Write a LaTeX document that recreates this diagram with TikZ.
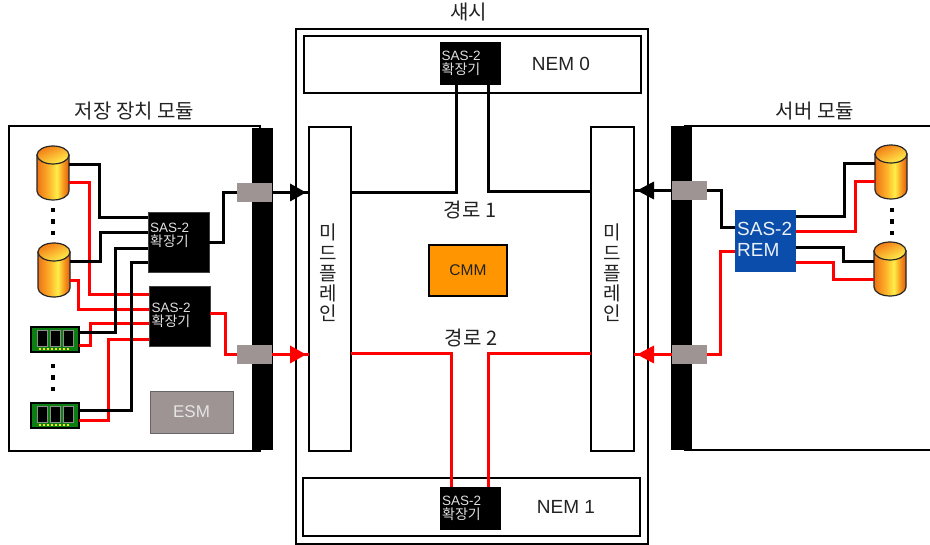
\documentclass[tikz,border=0pt]{standalone}
\usepackage{fontspec}
\setmainfont{Liberation Sans}
\newfontfamily\kr{Noto Sans CJK KR}
\usetikzlibrary{arrows.meta}
\definecolor{txtc}{HTML}{222222}
\definecolor{portg}{HTML}{9E9494}
\definecolor{redw}{HTML}{FF0000}
\definecolor{remb}{HTML}{0B4DAB}
\definecolor{cmmo}{HTML}{FF9500}
\definecolor{ramg}{HTML}{0B7F12}
\pgfdeclarehorizontalshading{cylbody}{100bp}{
  rgb(0bp)=(0.93,0.45,0.08);
  rgb(25bp)=(0.93,0.45,0.08);
  rgb(42bp)=(0.99,0.68,0.16);
  rgb(56bp)=(1,0.93,0.28);
  rgb(66bp)=(0.97,0.60,0.12);
  rgb(75bp)=(0.88,0.36,0.05);
  rgb(100bp)=(0.88,0.36,0.05)}
\pgfdeclareverticalshading{cyltop}{100bp}{
  rgb(0bp)=(1,0.90,0.28);
  rgb(30bp)=(1,0.90,0.28);
  rgb(70bp)=(0.96,0.52,0.10);
  rgb(100bp)=(0.96,0.52,0.10)}
\tikzset{
  x=1pt,y=-1pt,
  lbl/.style={font=\kr\fontsize{20}{20}\selectfont,text=txtc,inner sep=0pt},
  frame/.style={draw=black,line width=1.4pt,fill=white,inner sep=0pt,outer sep=0pt},
  blk/.style={draw=black,line width=3pt,line join=miter},
  rdw/.style={draw=redw,line width=3pt,line join=miter},
  expd/.style={fill=black,draw=black!75!white,line width=0.6pt,inner sep=0pt,outer sep=0pt},
  nemexp/.style={fill=black,inner sep=0pt,outer sep=0pt},
  exptxt/.style={anchor=west,inner sep=0pt,text=white!88!black,align=left,font=\fontsize{13.5}{15}\selectfont},
  port/.style={fill=portg,inner sep=0pt,outer sep=0pt,minimum width=35pt,minimum height=19pt},
  bar/.style={fill=black,inner sep=0pt,outer sep=0pt,minimum width=21pt},
  dotm/.style={fill=black,inner sep=0pt,minimum size=4.5pt},
  ghost/.style={inner sep=0pt,outer sep=0pt}
}
\newcommand{\kt}[1]{{\kr\fontsize{14}{15}\selectfont #1}}
\newcommand{\cyl}[3]{%
  \node[ghost,minimum width=32pt,minimum height=54pt] (#1) at (#2,#3) {};
  \path[shading=cylbody,draw=black!85!white,line width=1.2pt]
    (#2-16,#3-18) -- (#2-16,#3+18) arc[start angle=180,end angle=360,x radius=16pt,y radius=9pt] -- (#2+16,#3-18) -- cycle;
  \path[shading=cyltop,shading angle=25,draw=black!85!white,line width=1.2pt]
    (#2,#3-18) circle[x radius=16pt,y radius=9pt];
}
\newcommand{\ram}[3]{%
  \node[draw=black,fill=ramg,line width=1.2pt,inner sep=0pt,outer sep=0pt,minimum width=48pt,minimum height=25pt] (#1) at (#2,#3) {};
  \foreach \dx in {-13,0.5,13.5}{
    \fill[black,draw=black!45!white,line width=.7pt] (#2+\dx-5,#3-9.5) rectangle (#2+\dx+5,#3+7);
  }
  \foreach \dx in {-15,-11,...,15}{
    \fill[yellow!90!orange] (#2+\dx-1.2,#3+8.5) rectangle (#2+\dx+1.2,#3+11);
  }
}
\newcommand{\vdotsm}[4]{%
  \node[dotm] (#1a) at (#2,#3) {};
  \node[dotm] (#1b) at (#2,#3+#4) {};
  \node[dotm] (#1c) at (#2,#3+2*#4) {};
}
\begin{document}
\begin{tikzpicture}
\useasboundingbox (0,0) rectangle (930,545);
\fill[white] (0,0) rectangle (930,545);
% titles
\node[lbl] (tstor) at (134.5,111) {저장 장치 모듈};
\node[lbl] (tchas) at (468.5,12) {섀시};
\node[lbl] (tserv) at (815,111) {서버 모듈};
% storage module
\node[frame,minimum width=251pt,minimum height=325pt] (stor) at (134.5,288.5) {};
\node[bar,minimum height=322pt] (sbar) at (262.5,289) {};
% server module
\draw[black,line width=1.4pt] (684,126) -- (931,126);
\draw[black,line width=1.4pt] (684,450) -- (931,450);
\node[bar,minimum height=324pt] (rbar) at (681.5,288) {};
% chassis
\node[frame,line width=1.2pt,minimum width=352pt,minimum height=515pt] (chas) at (472,286.5) {};
\node[frame,minimum width=337pt,minimum height=57pt] (nem0) at (472.5,64.5) {};
\node[frame,minimum width=337pt,minimum height=58pt] (nem1) at (471.5,507) {};
\node[frame,minimum width=42pt,minimum height=324pt] (midl) at (330,289) {};
\node[frame,minimum width=43pt,minimum height=324pt] (midr) at (612.5,289) {};
\node[nemexp,minimum width=61pt,minimum height=43pt] (ex0) at (470.5,63.5) {};
\node[nemexp,minimum width=61pt,minimum height=43pt] (ex3) at (470.5,508.5) {};
\node[expd,minimum width=61pt,minimum height=60pt] (ex1) at (178.5,242) {};
\node[expd,minimum width=61pt,minimum height=60pt] (ex2) at (179.5,316) {};
% ports
\node[port] (pa) at (254.5,192.5) {};
\node[port] (pb) at (254.5,354.5) {};
\node[port] (pc) at (689.5,190.5) {};
\node[port] (pd) at (689.5,354.5) {};
% devices
\cyl{c1}{53}{173}
\cyl{c2}{54}{270}
\cyl{c3}{891}{172}
\cyl{c4}{890}{269}
\ram{r1}{55}{339.5}
\ram{r2}{55}{415.5}
\vdotsm{da}{53}{210}{11.5}
\vdotsm{db}{53}{366}{11.5}
\vdotsm{dc}{892}{210}{11.5}
% storage wires
\draw[rdw] (c1.east |- 0,183) -- (89,183) |- (ex2.west |- 0,295);
\draw[rdw] (c2.east |- 0,281) -- (78,281) |- (ex2.west |- 0,310);
\draw[rdw] (r1.east |- 0,346) -- (90,346) |- (ex2.west |- 0,324);
\draw[rdw] (r2.east |- 0,421) -- (108,421) |- (ex2.west |- 0,340);
\draw[blk] (c1.east |- 0,165) -- (99,165) |- (ex1.west |- 0,218);
\draw[blk] (c2.east |- 0,262) -- (100,262) |- (ex1.west |- 0,233);
\draw[blk] (r1.east |- 0,333) -- (115,333) |- (ex1.west |- 0,249);
\draw[blk] (r2.east |- 0,411) -- (131,411) |- (ex1.west |- 0,263);
\draw[blk] (ex1.east |- 0,243) -- (223,243) |- (pa.west);
\draw[rdw] (ex2.east |- 0,314) -- (225,314) |- (pb.west);
% arrows to midplanes
\draw[blk] (pa.east) -- (midl.west |- pa.east);
\fill[black] (290,183.5) -- (306,192.5) -- (290,201.5) -- cycle;
\draw[rdw] (pb.east) -- (midl.west |- pb.east);
\fill[redw] (290,345.5) -- (306,354.5) -- (290,363.5) -- cycle;
\draw[blk] (pc.west) -- (midr.east |- pc.west);
\fill[black] (654,181.5) -- (637,190.5) -- (654,199.5) -- cycle;
\draw[rdw] (pd.west) -- (midr.east |- pd.west);
\fill[redw] (654,345.5) -- (637,354.5) -- (654,363.5) -- cycle;
% chassis wires
\draw[blk] (midl.east |- 0,193) -| (ex0.south -| 456,0);
\draw[blk] (midr.west |- 0,192) -| (ex0.south -| 488,0);
\draw[rdw] (midl.east |- 0,354) -| (ex3.north -| 451,0);
\draw[rdw] (midr.west |- 0,354) -| (ex3.north -| 488,0);
% server
\node[fill=remb,inner sep=0pt,outer sep=0pt,minimum width=61pt,minimum height=62pt] (rem) at (765.5,241) {};
\draw[blk] (pc.east) -- (721,190.5) |- (rem.west |- 0,228);
\draw[rdw] (pd.east) -- (720,354.5) |- (rem.west |- 0,252);
\draw[blk] (rem.east |- 0,217) -- (844,217) |- (c3.west |- 0,164);
\draw[rdw] (rem.east |- 0,232) -- (855,232) |- (c3.west |- 0,182);
\draw[blk] (rem.east |- 0,248) -- (843,248) |- (c4.west |- 0,262);
\draw[rdw] (rem.east |- 0,263) -- (833,263) |- (c4.west |- 0,280);
\node[anchor=west,inner sep=0pt,text=white!92!remb,align=left,font=\fontsize{19}{21.5}\selectfont] (remt) at (737,239.5) {SAS-2\\REM};
% expander text
\node[exptxt] (t1) at (150,235) {SAS-2\\[-1pt]\kt{확장기}};
\node[exptxt] (t2) at (151.5,315) {SAS-2\\[-1pt]\kt{확장기}};
\node[exptxt] (t3) at (441.5,63.5) {SAS-2\\[-1pt]\kt{확장기}};
\node[exptxt] (t4) at (442,508.5) {SAS-2\\[-1pt]\kt{확장기}};
% labels
\node[fill=portg,draw=black!60!white,line width=.8pt,inner sep=0pt,outer sep=0pt,minimum width=83pt,minimum height=42pt,text=white!90!black,font=\fontsize{17}{20}\selectfont] (esm) at (191.5,412) {ESM};
\node[fill=cmmo,draw=black,line width=1.1pt,inner sep=0pt,outer sep=0pt,minimum width=78pt,minimum height=51pt,text=txtc,font=\fontsize{15.5}{18}\selectfont] (cmm) at (468,270.5) {CMM};
\node[text=txtc,inner sep=0pt,font=\fontsize{19}{20}\selectfont] (n0) at (561,64) {NEM 0};
\node[text=txtc,inner sep=0pt,font=\fontsize{19}{20}\selectfont] (n1) at (566,507) {NEM 1};
\node[lbl,font=\kr\fontsize{20}{20}\selectfont] (p1) at (470,210) {경로 1};
\node[lbl,font=\kr\fontsize{20}{20}\selectfont] (p2) at (471,338) {경로 2};
\node[lbl,align=center,font=\kr\fontsize{19}{20.2}\selectfont] (ml) at (328,273) {미\\드\\플\\레\\인};
\node[lbl,align=center,font=\kr\fontsize{19}{20.2}\selectfont] (mr) at (612,273) {미\\드\\플\\레\\인};
\end{tikzpicture}
\end{document}
